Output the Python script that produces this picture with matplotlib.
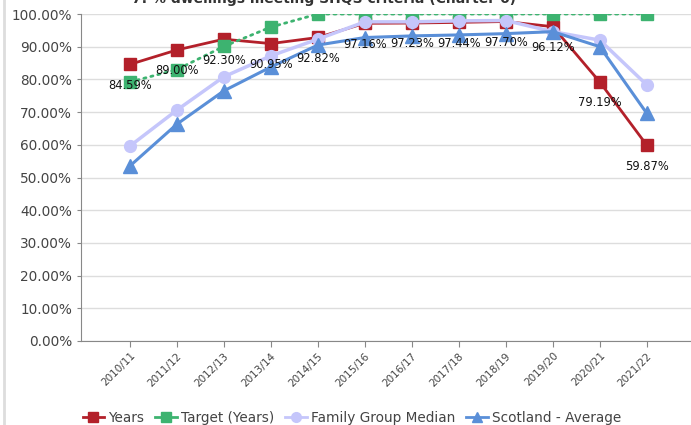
import matplotlib
matplotlib.use("Agg")
import matplotlib.pyplot as plt
from matplotlib.lines import Line2D
import numpy as np

years = ["2010/11", "2011/12", "2012/13", "2013/14", "2014/15", "2015/16",
         "2016/17", "2017/18", "2018/19", "2019/20", "2020/21", "2021/22"]
years_vals = [84.59, 89.00, 92.30, 90.95, 92.82, 97.16, 97.23, 97.44, 97.70, 96.12, 79.19, 59.87]
target_vals = [79.2, 83.0, 90.1, 96.0, 100.0, 100.0, 100.0, 100.0, 100.0, 100.0, 100.0, 100.0]
family_vals = [59.6, 70.6, 80.8, 87.2, 92.3, 97.6, 97.6, 97.9, 98.0, 94.6, 92.0, 78.3]
scotland_vals = [53.5, 66.3, 76.5, 83.8, 90.5, 92.8, 93.3, 93.6, 94.0, 94.6, 90.0, 69.6]
title = "7: % dwellings meeting SHQS criteria (Charter 6)"

RED = "#B3202A"
GREEN = "#3DB370"
LAV = "#C5C6FB"
BLUE = "#5A8FD8"

fig = plt.figure(figsize=(6.91, 4.25), dpi=100)
ax = fig.add_axes([80.5 / 691, (425 - 341) / 425, 1 - 80.5 / 691, (341 - 14) / 425])

x = np.arange(len(years))
ax.plot(x, years_vals, color=RED, lw=2, marker="s", ms=8.5, zorder=3)
ax.plot(x, target_vals, color=GREEN, lw=2, ls=(0, (0.8, 1.8)), dash_capstyle="round",
        marker="s", ms=8.5, zorder=4)
ax.plot(x, family_vals, color=LAV, lw=2.5, marker="o", ms=8.5, zorder=5)
ax.plot(x, scotland_vals, color=BLUE, lw=2.2, marker="^", ms=9.5, zorder=6)

for xi, v in zip(x, years_vals):
    ax.annotate(f"{v:.2f}%", (xi, v), xytext=(0, -15), textcoords="offset points",
                ha="center", va="center", fontsize=8.3, color="#111111", zorder=10)

ax.set_xlim(-1.05, 11.94)
ax.set_ylim(0, 100)
ax.set_yticks(np.arange(0, 101, 10))
ax.set_yticklabels([f"{v:.2f}%" for v in np.arange(0, 101, 10)])
ax.set_xticks(x)
ax.set_xticklabels(years, rotation=45, ha="right", va="top", rotation_mode="anchor")

ax.grid(axis="y", color="#DDDDDD", lw=1)
ax.set_axisbelow(True)
for s in ["top", "right"]:
    ax.spines[s].set_visible(False)
ax.spines["left"].set_color("#888888")
ax.spines["bottom"].set_color("#888888")
ax.tick_params(axis="y", length=3, color="#888888", labelsize=9.8, labelcolor="#444444", pad=3)
ax.tick_params(axis="x", length=4, color="#888888", labelsize=7.5, labelcolor="#444444", pad=3)

fig.text(324 / 691, 1 - 2.5 / 425, title, ha="center", va="baseline",
         fontsize=10, fontweight="bold", color="#333333")

handles = [
    Line2D([], [], color=RED, lw=2, marker="s", ms=7),
    Line2D([], [], color=GREEN, lw=2, marker="s", ms=7),
    Line2D([], [], color=LAV, lw=2, marker="o", ms=7),
    Line2D([], [], color=BLUE, lw=2, marker="^", ms=7),
]
labels = ["Years", "Target (Years)", "Family Group Median", "Scotland - Average"]
fig.legend(handles, labels, loc="center", bbox_to_anchor=(352 / 691, 1 - 418 / 425),
           ncol=4, frameon=False, fontsize=9.8, handlelength=1.6, handletextpad=0.3,
           columnspacing=0.8, labelcolor="#444444")

fig.add_artist(Line2D([3.5 / 691, 3.5 / 691], [0, 1], color="#DDDDDD", lw=2))

fig.savefig("out.png", dpi=100)
